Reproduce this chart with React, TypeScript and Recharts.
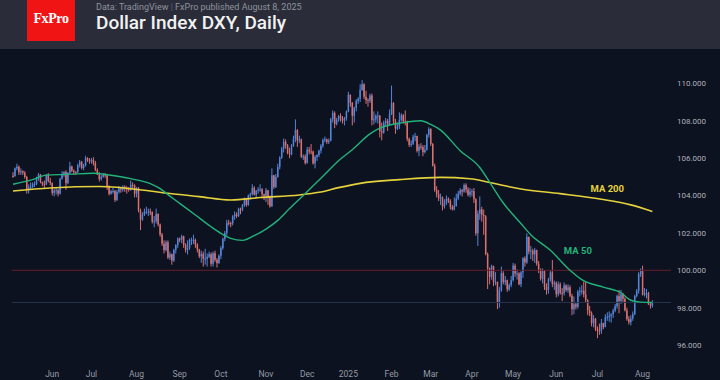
import { Bar, ComposedChart, Line, ReferenceDot, ReferenceLine, XAxis, YAxis } from "recharts";

// [open, high, low, close]
type Candle = [number, number, number, number];

const may24: Candle[] = [
  [105.05, 105.25, 104.95, 105.04], [105.04, 105.5, 105.0, 105.45], [105.45, 105.7, 105.35, 105.54],
  [105.54, 105.6, 105.1, 105.24], [105.24, 105.45, 105.1, 105.3], [105.3, 105.35, 105.1, 105.22],
  [105.22, 105.3, 104.9, 104.99], [104.99, 105.05, 104.1, 104.33], [104.33, 104.6, 104.1, 104.44],
  [104.44, 104.7, 104.35, 104.47], [104.47, 104.7, 104.4, 104.6], [104.6, 104.75, 104.45, 104.63],
  [104.63, 105.0, 104.55, 104.93], [104.93, 105.2, 104.8, 105.12], [105.12, 105.15, 104.65, 104.72],
  [104.72, 104.75, 104.5, 104.62], [104.62, 104.8, 104.4, 104.6], [104.6, 105.15, 104.55, 105.11],
  [105.11, 105.2, 104.7, 104.77], [104.77, 104.95, 104.55, 104.67],
];
const jun24: Candle[] = [
  [104.67, 104.7, 104.0, 104.14], [104.14, 104.35, 103.95, 104.26], [104.26, 104.4, 104.05, 104.28],
  [104.28, 104.35, 103.95, 104.1], [104.1, 104.95, 104.05, 104.89], [104.89, 105.3, 104.85, 105.15],
  [105.15, 105.3, 105.0, 105.25], [105.25, 105.35, 104.3, 104.66], [104.66, 105.25, 104.6, 105.21],
  [105.21, 105.8, 105.15, 105.55], [105.55, 105.6, 105.25, 105.33], [105.33, 105.4, 105.1, 105.26],
  [105.26, 105.3, 105.1, 105.25], [105.25, 105.7, 105.2, 105.61], [105.61, 105.9, 105.5, 105.8],
  [105.8, 105.85, 105.4, 105.47], [105.47, 105.7, 105.35, 105.62], [105.62, 106.13, 105.55, 106.0],
  [106.0, 106.05, 105.8, 105.88], [105.88, 106.0, 105.7, 105.87],
];
const jul24: Candle[] = [
  [105.87, 106.0, 105.7, 105.91], [105.91, 106.05, 105.6, 105.74], [105.74, 105.85, 105.3, 105.37],
  [105.37, 105.45, 105.1, 105.12], [105.12, 105.25, 104.75, 104.88], [104.88, 105.1, 104.8, 105.0],
  [105.0, 105.2, 104.95, 105.12], [105.12, 105.2, 104.95, 105.08], [105.08, 105.1, 104.3, 104.45],
  [104.45, 104.55, 104.0, 104.09], [104.09, 104.3, 104.05, 104.23], [104.23, 104.4, 104.1, 104.24],
  [104.24, 104.3, 103.65, 103.76], [103.76, 104.3, 103.7, 104.19], [104.19, 104.5, 104.1, 104.39],
  [104.39, 104.45, 104.15, 104.31], [104.31, 104.55, 104.2, 104.46], [104.46, 104.55, 104.2, 104.37],
  [104.37, 104.5, 104.1, 104.35], [104.35, 104.45, 104.2, 104.31], [104.31, 104.8, 104.25, 104.57],
  [104.57, 104.7, 104.35, 104.55], [104.55, 104.6, 103.9, 104.1],
];
const aug24: Candle[] = [
  [104.1, 104.45, 103.9, 104.41], [104.41, 104.45, 103.1, 103.21], [103.21, 103.3, 102.15, 102.71],
  [102.71, 103.1, 102.65, 102.98], [102.98, 103.3, 102.9, 103.14], [103.14, 103.4, 103.0, 103.14],
  [103.14, 103.3, 102.9, 103.14], [103.14, 103.3, 102.95, 103.12], [103.12, 103.15, 102.5, 102.61],
  [102.61, 102.9, 102.3, 102.63], [102.63, 103.3, 102.5, 103.01], [103.01, 103.05, 102.35, 102.45],
  [102.45, 102.5, 101.8, 101.91], [101.91, 102.0, 101.3, 101.42], [101.42, 101.6, 100.9, 101.08],
  [101.08, 101.6, 101.0, 101.5], [101.5, 101.6, 100.6, 100.68], [100.68, 101.0, 100.55, 100.86],
  [100.86, 100.9, 100.3, 100.52], [100.52, 101.15, 100.45, 101.09], [101.09, 101.4, 100.9, 101.35],
  [101.35, 101.75, 101.2, 101.7],
];
const sep24: Candle[] = [
  [101.7, 101.75, 101.5, 101.64], [101.64, 101.9, 101.45, 101.82], [101.82, 101.85, 101.2, 101.36],
  [101.36, 101.45, 100.95, 101.09], [101.09, 101.6, 100.85, 101.18], [101.18, 101.7, 101.1, 101.63],
  [101.63, 101.75, 101.35, 101.63], [101.63, 101.9, 101.4, 101.63], [101.63, 101.7, 101.2, 101.37],
  [101.37, 101.45, 100.95, 101.11], [101.11, 101.15, 100.65, 100.75], [100.75, 101.05, 100.4, 100.88],
  [100.88, 101.0, 100.2, 100.62], [100.62, 101.15, 100.3, 100.62], [100.62, 100.9, 100.2, 100.72],
  [100.72, 101.0, 100.65, 100.86], [100.86, 100.95, 100.2, 100.35], [100.35, 101.0, 100.2, 100.91],
  [100.91, 101.05, 100.45, 100.56], [100.56, 100.65, 100.15, 100.38], [100.38, 100.85, 100.35, 100.78],
];
const oct24: Candle[] = [
  [100.78, 101.3, 100.6, 101.19], [101.19, 101.75, 101.1, 101.68], [101.68, 102.1, 101.55, 101.99],
  [101.99, 102.7, 101.85, 102.54], [102.54, 102.7, 102.4, 102.52], [102.52, 102.6, 102.3, 102.51],
  [102.51, 102.95, 102.4, 102.89], [102.89, 103.15, 102.7, 102.99], [102.99, 103.1, 102.8, 102.9],
  [102.9, 103.35, 102.85, 103.29], [103.29, 103.35, 103.0, 103.25], [103.25, 103.55, 103.15, 103.49],
  [103.49, 103.9, 103.4, 103.83], [103.83, 103.85, 103.4, 103.49], [103.49, 104.05, 103.45, 104.0],
  [104.0, 104.15, 103.8, 104.08], [104.08, 104.6, 104.0, 104.41], [104.41, 104.5, 104.0, 104.05],
  [104.05, 104.3, 103.85, 104.26], [104.26, 104.45, 104.1, 104.32], [104.32, 104.6, 104.2, 104.33],
  [104.33, 104.4, 103.9, 104.07], [104.07, 104.1, 103.75, 103.98],
];
const nov24: Candle[] = [
  [103.98, 104.4, 103.65, 104.28], [104.28, 104.3, 103.5, 103.9], [103.9, 104.0, 103.35, 103.42],
  [103.42, 105.45, 103.4, 105.08], [105.08, 105.1, 104.35, 104.46], [104.46, 105.15, 104.4, 104.99],
  [104.99, 105.7, 104.95, 105.53], [105.53, 106.1, 105.4, 106.02], [106.02, 106.6, 105.95, 106.51],
  [106.51, 107.05, 106.3, 106.87], [106.87, 107.0, 106.5, 106.68], [106.68, 106.75, 106.2, 106.27],
  [106.27, 106.55, 106.0, 106.21], [106.21, 106.75, 106.15, 106.68], [106.68, 107.2, 106.6, 107.03],
  [107.03, 108.07, 106.85, 107.5], [107.5, 107.55, 106.6, 106.94], [106.94, 107.2, 106.8, 107.0],
  [107.0, 107.05, 106.0, 106.07], [106.07, 106.2, 105.9, 106.1], [106.1, 106.2, 105.65, 105.74],
];
const dec24: Candle[] = [
  [105.74, 106.6, 105.7, 106.45], [106.45, 106.6, 106.2, 106.36], [106.36, 106.75, 106.2, 106.35],
  [106.35, 106.4, 105.65, 105.72], [105.72, 106.15, 105.45, 106.06], [106.06, 106.2, 105.85, 106.16],
  [106.16, 106.45, 106.05, 106.4], [106.4, 106.75, 106.25, 106.66], [106.66, 107.05, 106.55, 106.96],
  [106.96, 107.15, 106.85, 107.0], [107.0, 107.05, 106.75, 106.86], [106.86, 107.05, 106.75, 106.93],
  [106.93, 108.15, 106.9, 108.08], [108.08, 108.55, 107.9, 108.42], [108.42, 108.5, 107.6, 107.82],
  [107.82, 108.15, 107.75, 108.04], [108.04, 108.3, 107.95, 108.26], [108.26, 108.4, 107.95, 108.13],
  [108.13, 108.25, 107.85, 108.0], [108.0, 108.2, 107.75, 108.13], [108.13, 108.55, 108.0, 108.49],
];
const jan25: Candle[] = [
  [108.49, 109.55, 108.45, 109.39], [109.39, 109.4, 108.75, 108.95], [108.95, 109.0, 107.75, 108.26],
  [108.26, 108.75, 107.9, 108.69], [108.69, 109.15, 108.5, 109.05], [109.05, 109.25, 108.9, 109.18],
  [109.18, 109.95, 109.0, 109.65], [109.65, 110.17, 109.6, 109.95], [109.95, 110.0, 109.15, 109.28],
  [109.28, 109.6, 108.9, 109.1], [109.1, 109.2, 108.75, 109.07], [109.07, 109.45, 108.95, 109.35],
  [109.35, 109.45, 107.75, 108.04], [108.04, 108.5, 107.8, 108.07], [108.07, 108.35, 107.9, 108.25],
  [108.25, 108.5, 107.85, 108.27], [108.27, 108.3, 107.1, 107.44], [107.44, 107.9, 106.95, 107.37],
  [107.37, 108.0, 107.3, 107.87], [107.87, 108.15, 107.7, 107.99], [107.99, 108.1, 107.45, 107.8],
  [107.8, 108.6, 107.75, 108.37],
];
const feb25: Candle[] = [
  [108.37, 109.88, 108.3, 108.94], [108.94, 109.0, 107.8, 107.96], [107.96, 108.1, 107.3, 107.58],
  [107.58, 107.9, 107.5, 107.7], [107.7, 108.45, 107.55, 108.04], [108.04, 108.4, 107.95, 108.3],
  [108.3, 108.35, 107.85, 107.96], [107.96, 108.55, 107.75, 107.94], [107.94, 108.0, 106.9, 107.03],
  [107.03, 107.1, 106.6, 106.71], [106.71, 106.95, 106.6, 106.77], [106.77, 107.25, 106.7, 107.13],
  [107.13, 107.35, 106.9, 107.18], [107.18, 107.2, 106.3, 106.39], [106.39, 106.75, 106.1, 106.62],
  [106.62, 106.8, 106.45, 106.59], [106.59, 106.7, 106.1, 106.32], [106.32, 106.7, 106.25, 106.45],
  [106.45, 107.3, 106.4, 107.24], [107.24, 107.65, 107.1, 107.56],
];
const mar25: Candle[] = [
  [107.56, 107.6, 106.65, 106.76], [106.76, 106.8, 105.55, 105.59], [105.59, 105.7, 104.2, 104.29],
  [104.29, 104.5, 103.9, 104.08], [104.08, 104.3, 103.7, 103.84], [103.84, 104.1, 103.5, 103.9],
  [103.9, 103.95, 103.2, 103.42], [103.42, 103.8, 103.3, 103.59], [103.59, 104.0, 103.5, 103.83],
  [103.83, 103.9, 103.6, 103.72], [103.72, 103.8, 103.25, 103.38], [103.38, 103.5, 103.2, 103.26],
  [103.26, 103.9, 103.2, 103.44], [103.44, 104.1, 103.4, 103.85], [103.85, 104.25, 103.75, 104.09],
  [104.09, 104.4, 104.0, 104.28], [104.28, 104.35, 103.95, 104.21], [104.21, 104.65, 104.15, 104.56],
  [104.56, 104.65, 104.15, 104.32], [104.32, 104.45, 103.95, 104.04], [104.04, 104.4, 103.9, 104.21],
];
const apr25: Candle[] = [
  [104.21, 104.35, 103.95, 104.23], [104.23, 104.4, 103.6, 103.8], [103.8, 103.85, 101.85, 101.98],
  [101.98, 103.2, 101.3, 103.02], [103.02, 103.95, 102.7, 103.26], [103.26, 103.4, 102.6, 102.96],
  [102.96, 103.25, 101.9, 102.89], [102.89, 102.95, 100.8, 100.87], [100.87, 100.95, 99.0, 100.1],
  [100.1, 100.15, 99.25, 99.64], [99.64, 100.3, 99.5, 100.22], [100.22, 100.25, 99.15, 99.38],
  [99.38, 99.9, 99.2, 99.38], [99.38, 99.4, 97.92, 98.28], [98.28, 99.1, 98.0, 98.92],
  [98.92, 100.2, 98.85, 99.85], [99.85, 99.95, 99.25, 99.37], [99.37, 99.7, 99.2, 99.47],
  [99.47, 99.5, 98.85, 98.98], [98.98, 99.3, 98.9, 99.21], [99.21, 99.7, 99.1, 99.47],
];
const may25: Candle[] = [
  [99.47, 100.4, 99.4, 100.25], [100.25, 100.35, 99.65, 99.83], [99.83, 100.05, 99.5, 99.83],
  [99.83, 99.9, 99.2, 99.25], [99.25, 99.95, 99.1, 99.89], [99.89, 100.7, 99.6, 100.64],
  [100.64, 100.75, 100.2, 100.42], [100.42, 101.98, 100.35, 101.79], [101.79, 101.8, 100.85, 101.0],
  [101.0, 101.3, 100.6, 101.05], [101.05, 101.15, 100.5, 100.85], [100.85, 101.2, 100.4, 101.09],
  [101.09, 101.1, 100.25, 100.35], [100.35, 100.5, 99.85, 100.04], [100.04, 100.1, 99.45, 99.55],
  [99.55, 100.1, 99.3, 99.96], [99.96, 100.0, 98.95, 99.11], [99.11, 99.3, 98.7, 98.95],
  [98.95, 99.6, 98.75, 99.51], [99.51, 100.0, 99.4, 99.89], [99.89, 100.55, 99.1, 99.27],
  [99.27, 99.45, 98.95, 99.33],
];
const jun25: Candle[] = [
  [99.33, 99.4, 98.55, 98.72], [98.72, 99.4, 98.6, 99.25], [99.25, 99.35, 98.7, 98.8],
  [98.8, 99.05, 98.35, 98.77], [98.77, 99.35, 98.65, 99.19], [99.19, 99.25, 98.85, 98.94],
  [98.94, 99.25, 98.8, 99.09], [99.09, 99.2, 98.55, 98.64], [98.64, 98.75, 97.6, 97.92],
  [97.92, 98.6, 97.65, 98.18], [98.18, 98.3, 97.9, 98.05], [98.05, 98.95, 97.95, 98.85],
  [98.85, 99.1, 98.6, 98.9], [98.9, 99.2, 98.7, 98.91], [98.91, 99.4, 98.55, 98.71],
  [98.71, 99.4, 98.3, 98.41], [98.41, 98.45, 97.6, 97.86], [97.86, 98.1, 97.55, 97.71],
  [97.71, 97.8, 97.0, 97.17], [97.17, 97.6, 96.95, 97.41], [97.41, 97.45, 96.75, 96.88],
];
const jul25: Candle[] = [
  [96.88, 97.0, 96.37, 96.78], [96.78, 97.15, 96.55, 96.77], [96.77, 97.4, 96.6, 97.18],
  [97.18, 97.2, 96.85, 96.97], [96.97, 97.65, 96.95, 97.48], [97.48, 97.75, 97.3, 97.52],
  [97.52, 97.8, 97.25, 97.55], [97.55, 97.7, 97.2, 97.65], [97.65, 97.95, 97.45, 97.85],
  [97.85, 98.2, 97.75, 98.08], [98.08, 98.7, 97.95, 98.62], [98.62, 98.95, 97.7, 98.36],
  [98.36, 98.95, 98.2, 98.72], [98.72, 98.8, 98.3, 98.48], [98.48, 98.55, 97.8, 97.86],
  [97.86, 98.0, 97.3, 97.39], [97.39, 97.55, 97.1, 97.22], [97.22, 97.6, 97.05, 97.42],
  [97.42, 97.8, 97.3, 97.65], [97.65, 98.7, 97.6, 98.63], [98.63, 99.0, 98.55, 98.9],
  [98.9, 99.9, 98.75, 99.8], [99.8, 100.1, 99.65, 99.97],
];
const aug25: Candle[] = [
  [99.97, 100.25, 98.65, 98.69], [98.69, 99.05, 98.6, 98.78], [98.78, 99.0, 98.5, 98.78],
  [98.78, 98.85, 98.15, 98.18], [98.18, 98.3, 97.95, 98.1], [98.1, 98.4, 98.0, 98.28],
];

const months = [may24, jun24, jul24, aug24, sep24, oct24, nov24, dec24, jan25, feb25, mar25, apr25, may25, jun25, jul25, aug25];
const monthLabels = ["", "Jun", "Jul", "Aug", "Sep", "Oct", "Nov", "Dec", "2025", "Feb", "Mar", "Apr", "May", "Jun", "Jul", "Aug"];
const priceTicks = [96, 98, 100, 102, 104, 106, 108, 110];

// moving averages: [bar index, value]
const ma50Points: [number, number][] = [
  [0, 104.6], [10, 104.85], [17, 105.09], [28, 105.13], [41, 105.19], [49, 105.1], [55, 105.0],
  [60, 104.9], [70, 104.64], [75, 104.37], [79, 104.05], [85, 103.58], [93, 102.96], [101, 102.33],
  [106, 101.98], [111, 101.71], [117, 101.6], [123, 101.85], [129, 102.2], [135, 102.67], [141, 103.3],
  [148, 104.0], [157, 104.92], [167, 105.95], [173, 106.45], [182, 107.3], [187, 107.6], [199, 107.9],
  [208, 108.0], [213, 107.8], [218, 107.5], [228, 106.4], [238, 105.5], [243, 104.72], [250, 103.6],
  [259, 102.5], [264, 101.9], [274, 101.07], [284, 100.0], [290, 99.5], [301, 99.1], [310, 98.8],
  [315, 98.4], [320, 98.3], [326, 98.28],
];
const ma200Points: [number, number][] = [
  [0, 104.24], [19, 104.4], [44, 104.48], [70, 104.24], [79, 104.12], [95, 103.94], [111, 103.76],
  [126, 103.89], [146, 104.03], [156, 104.17], [166, 104.42], [177, 104.65], [197, 104.85], [218, 104.97],
  [233, 104.9], [243, 104.7], [253, 104.47], [259, 104.35], [279, 104.1], [300, 103.8], [315, 103.5],
  [326, 103.15],
];

const keyLevel = 100;
const lastPrice = 98.28;
const emptyBarsRight = 9;

const BG = "#0c1220";
const HEADER = "#2a2d39";
const UP = "#5585d8";
const DOWN = "#d9706e";
const MA50_COLOR = "#22b37a";
const MA200_COLOR = "#e6d23c";

interface Row {
  i: number;
  o?: number;
  h?: number;
  l?: number;
  c?: number;
  range?: [number, number];
  ma50?: number;
  ma200?: number;
}

function buildRows() {
  const rows: Row[] = [];
  const tickIdx: number[] = [];
  const tickText: Record<number, string> = {};
  months.forEach((month, m) => {
    if (monthLabels[m]) {
      tickIdx.push(rows.length);
      tickText[rows.length] = monthLabels[m];
    }
    month.forEach(([o, h, l, c]) => {
      rows.push({ i: rows.length, o, h, l, c, range: [l, h] });
    });
  });
  for (let k = 0; k < emptyBarsRight; k++) rows.push({ i: rows.length });
  ma50Points.forEach(([idx, v]) => (rows[idx].ma50 = v));
  ma200Points.forEach(([idx, v]) => (rows[idx].ma200 = v));
  return { rows, tickIdx, tickText };
}

const { rows, tickIdx, tickText } = buildRows();

function CandleShape(props: any) {
  const { x, y, width, height, payload } = props;
  if (!payload || payload.o == null) return null;
  const { o, h, l, c } = payload as Required<Row>;
  const top = Math.min(y, y + height);
  const span = Math.abs(height);
  const perUnit = h - l > 0 ? span / (h - l) : 0;
  const yOf = (v: number) => top + (h - v) * perUnit;
  const cx = x + width / 2;
  const color = c >= o ? UP : DOWN;
  const bodyTop = yOf(Math.max(o, c));
  const bodyH = Math.max(1, yOf(Math.min(o, c)) - bodyTop);
  const bw = 1.5;
  return (
    <g>
      <line x1={cx} x2={cx} y1={top} y2={top + span} stroke={color} strokeWidth={1} />
      <rect x={cx - bw / 2} y={bodyTop} width={bw} height={bodyH} fill={color} />
    </g>
  );
}

export default function App() {
  return (
    <div style={{ position: "relative", width: 720, height: 380, background: BG, overflow: "hidden", fontFamily: "Roboto, sans-serif" }}>
      <style>{`body{margin:0}`}</style>
      <svg width={720} height={49} style={{ position: "absolute", left: 0, top: 0 }}>
        <rect x={0} y={0} width={720} height={49} fill={HEADER} />
        <rect x={27} y={0} width={48} height={41} fill="#f01414" />
        <text x={51} y={23} textAnchor="middle" fill="#ffffff" fontFamily="'Liberation Serif', serif" fontSize={14} fontWeight={700} letterSpacing={-0.4}>
          FxPro
        </text>
        <text x={96} y={9.5} fill="#8f939c" fontSize={9} fontFamily="Roboto, sans-serif">
          Data: TradingView <tspan fill="#5d616b">|</tspan> FxPro published August 8, 2025
        </text>
        <text x={96} y={28.5} fill="#f2f2f2" fontSize={19} fontWeight={500} fontFamily="Roboto, sans-serif">
          Dollar Index DXY, Daily
        </text>
      </svg>
      <div style={{ position: "absolute", left: 0, top: 49 }}>
        <ComposedChart
          width={720}
          height={331}
          data={rows}
          margin={{ top: 13, right: 4, bottom: 2, left: 12 }}
          barCategoryGap={0}
          style={{ fontFamily: "Roboto, sans-serif" }}
        >
          <XAxis
            dataKey="i"
            ticks={tickIdx}
            interval={0}
            tickFormatter={(v) => tickText[v] ?? ""}
            axisLine={false}
            tickLine={false}
            tickSize={0}
            tickMargin={13}
            height={20}
            tick={{ fill: "#959aa4", fontSize: 8.5 }}
          />
          <YAxis
            orientation="right"
            type="number"
            domain={[95.31, 111.14]}
            ticks={priceTicks}
            allowDataOverflow
            tickFormatter={(v) => Number(v).toFixed(3)}
            axisLine={false}
            tickLine={false}
            tickSize={0}
            tickMargin={6}
            width={45}
            tick={{ fill: "#aeb1b8", fontSize: 8, textAnchor: "start" }}
          />
          <ReferenceLine y={keyLevel} stroke="#6a1c28" strokeWidth={1} />
          <ReferenceLine y={lastPrice} stroke="#27344d" strokeWidth={1} />
          <Bar dataKey="range" shape={<CandleShape />} isAnimationActive={false} />
          <Line dataKey="ma200" type="monotone" connectNulls dot={false} stroke={MA200_COLOR} strokeWidth={1.6} isAnimationActive={false} />
          <Line dataKey="ma50" type="monotone" connectNulls dot={false} stroke={MA50_COLOR} strokeWidth={1.4} isAnimationActive={false} />
          <ReferenceDot
            x={303}
            y={104.35}
            r={0}
            label={{ value: "MA 200", position: "center", fill: MA200_COLOR, fontSize: 9.5, fontWeight: 700 }}
          />
          <ReferenceDot
            x={288}
            y={101.03}
            r={0}
            label={{ value: "MA 50", position: "center", fill: MA50_COLOR, fontSize: 9.5, fontWeight: 700 }}
          />
        </ComposedChart>
      </div>
    </div>
  );
}
